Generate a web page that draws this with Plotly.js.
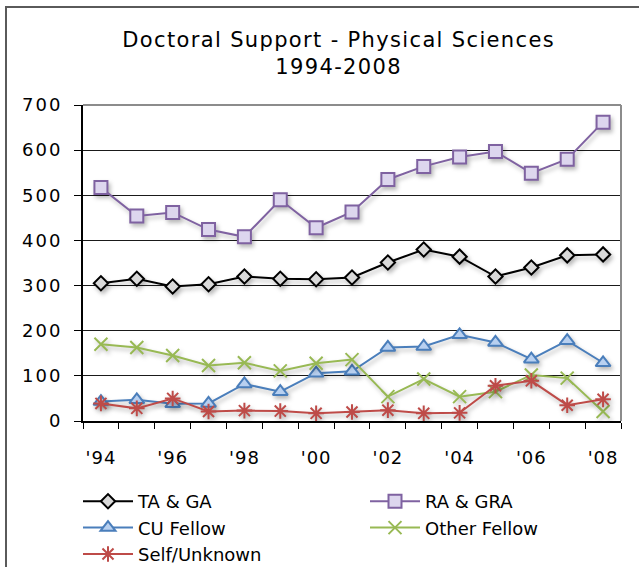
<!DOCTYPE html>
<html>
<head>
<meta charset="utf-8">
<script src="https://cdn.plot.ly/plotly-3.0.1.min.js"></script>
<style>
  html, body { margin: 0; padding: 0; background: #fff; }
  #chart { width: 639px; height: 567px; position: relative; }
  #frame { position: absolute; left: 5px; top: 6px; width: 700px; height: 700px;
           border-left: 2px solid #5a5a5a; border-top: 2px solid #5a5a5a; pointer-events: none; }
  .scatterlayer .trace { filter: drop-shadow(2px 3px 2px rgba(0,0,0,0.28)); }
  .gtitle { letter-spacing: 1.35px; }
  .ytick text { letter-spacing: 2px; }
  .xtick text { letter-spacing: 1px; }
</style>
</head>
<body>
<div id="chart"></div>
<div id="frame"></div>
<script>
// Academic years and their axis labels
const years = [1994, 1995, 1996, 1997, 1998, 1999, 2000, 2001, 2002, 2003, 2004, 2005, 2006, 2007, 2008];
const yearTickVals = [1994, 1996, 1998, 2000, 2002, 2004, 2006, 2008];
const yearTickText = ["'94", "'96", "'98", "'00", "'02", "'04", "'06", "'08"];

// Doctoral students by type of support
const taGa        = [305, 315, 298, 303, 320, 315, 314, 318, 351, 380, 364, 320, 340, 367, 369];
const raGra       = [517, 454, 462, 424, 408, 490, 428, 463, 535, 564, 585, 597, 549, 580, 662];
const cuFellow    = [43, 47, 38, 39, 82, 65, 106, 110, 163, 165, 191, 174, 137, 178, 129];
const otherFellow = [170, 163, 145, 123, 129, 111, 128, 136, 54, 93, 54, 65, 102, 95, 21];
const selfUnknown = [39, 28, 50, 21, 23, 22, 17, 20, 24, 17, 18, 78, 89, 35, 48];

const FONT = "DejaVu Sans, Verdana, sans-serif";

function series(name, y, lineColor, symbol, fill, size, legendId) {
  return {
    type: 'scatter', mode: 'lines+markers', name: name,
    x: years, y: y,
    legend: legendId,
    line: { color: lineColor, width: 2 },
    marker: { symbol: symbol, size: size, color: fill,
              line: { color: lineColor, width: 2 } }
  };
}

// Left legend column: TA & GA, CU Fellow, Self/Unknown; right column: RA & GRA, Other Fellow
const traces = [
  series('TA & GA', taGa, '#000000', 'diamond', '#d9d9d9', 11, 'legend'),
  series('RA & GRA', raGra, '#7f62a1', 'square', '#ddd6ee', 13, 'legend2'),
  series('CU Fellow', cuFellow, '#4a7ebb', 'triangle-up', '#b8d0f0', 13, 'legend'),
  series('Other Fellow', otherFellow, '#98b954', 'x-thin-open', '#98b954', 13, 'legend2'),
  series('Self/Unknown', selfUnknown, '#be4b48', 'asterisk-open', '#be4b48', 13, 'legend')
];

// Each legend wraps to one entry per row, giving two stacked columns
const legendBase = {
  orientation: 'h', traceorder: 'normal',
  xref: 'container', xanchor: 'left',
  yref: 'container', y: 1 - 483 / 567, yanchor: 'top',
  entrywidth: 227, entrywidthmode: 'pixels',
  font: { family: FONT, size: 18, color: '#000' },
  bgcolor: 'rgba(0,0,0,0)', itemwidth: 50
};

const layout = {
  width: 639, height: 567,
  margin: { l: 83, r: 18, t: 105, b: 146 },
  paper_bgcolor: '#ffffff', plot_bgcolor: '#ffffff',
  font: { family: FONT, color: '#000', size: 17 },
  title: {
    text: 'Doctoral Support - Physical Sciences<br>1994-2008',
    font: { family: FONT, size: 21, color: '#000' },
    xref: 'container', x: 0.53, xanchor: 'center',
    yref: 'container', y: 0.917, yanchor: 'top'
  },
  xaxis: {
    range: [1993.5, 2008.5],
    tickmode: 'array', tickvals: yearTickVals, ticktext: yearTickText,
    ticks: '', showgrid: false, zeroline: false,
    showline: true, linecolor: '#000', linewidth: 2,
    ticklabelstandoff: 19,
    tickfont: { family: FONT, size: 18 },
    minor: { tickmode: 'linear', tick0: 1993.5, dtick: 1, ticks: 'outside',
             ticklen: 6, tickwidth: 1, tickcolor: '#000', showgrid: false }
  },
  yaxis: {
    range: [0, 700], tickmode: 'linear', tick0: 0, dtick: 100,
    showgrid: true, gridcolor: '#1a1a1a', gridwidth: 1,
    zeroline: false, showline: true, linecolor: '#000', linewidth: 2,
    ticks: 'outside', ticklen: 7, tickcolor: '#000', tickwidth: 1,
    ticklabelstandoff: 8,
    tickfont: { family: FONT, size: 18 }
  },
  showlegend: true,
  legend: Object.assign({}, legendBase, { x: 78 / 639 }),
  legend2: Object.assign({}, legendBase, { x: 365 / 639 }),
  shapes: [
    { type: 'line', xref: 'paper', yref: 'paper', x0: 0, x1: 1, y0: 1, y1: 1,
      line: { color: '#8c8c8c', width: 2 }, layer: 'above' },
    { type: 'line', xref: 'paper', yref: 'paper', x0: 1, x1: 1, y0: 0, y1: 1,
      line: { color: '#8c8c8c', width: 2 }, layer: 'above' }
  ]
};

Plotly.newPlot('chart', traces, layout, { displayModeBar: false, staticPlot: true });
</script>
</body>
</html>
